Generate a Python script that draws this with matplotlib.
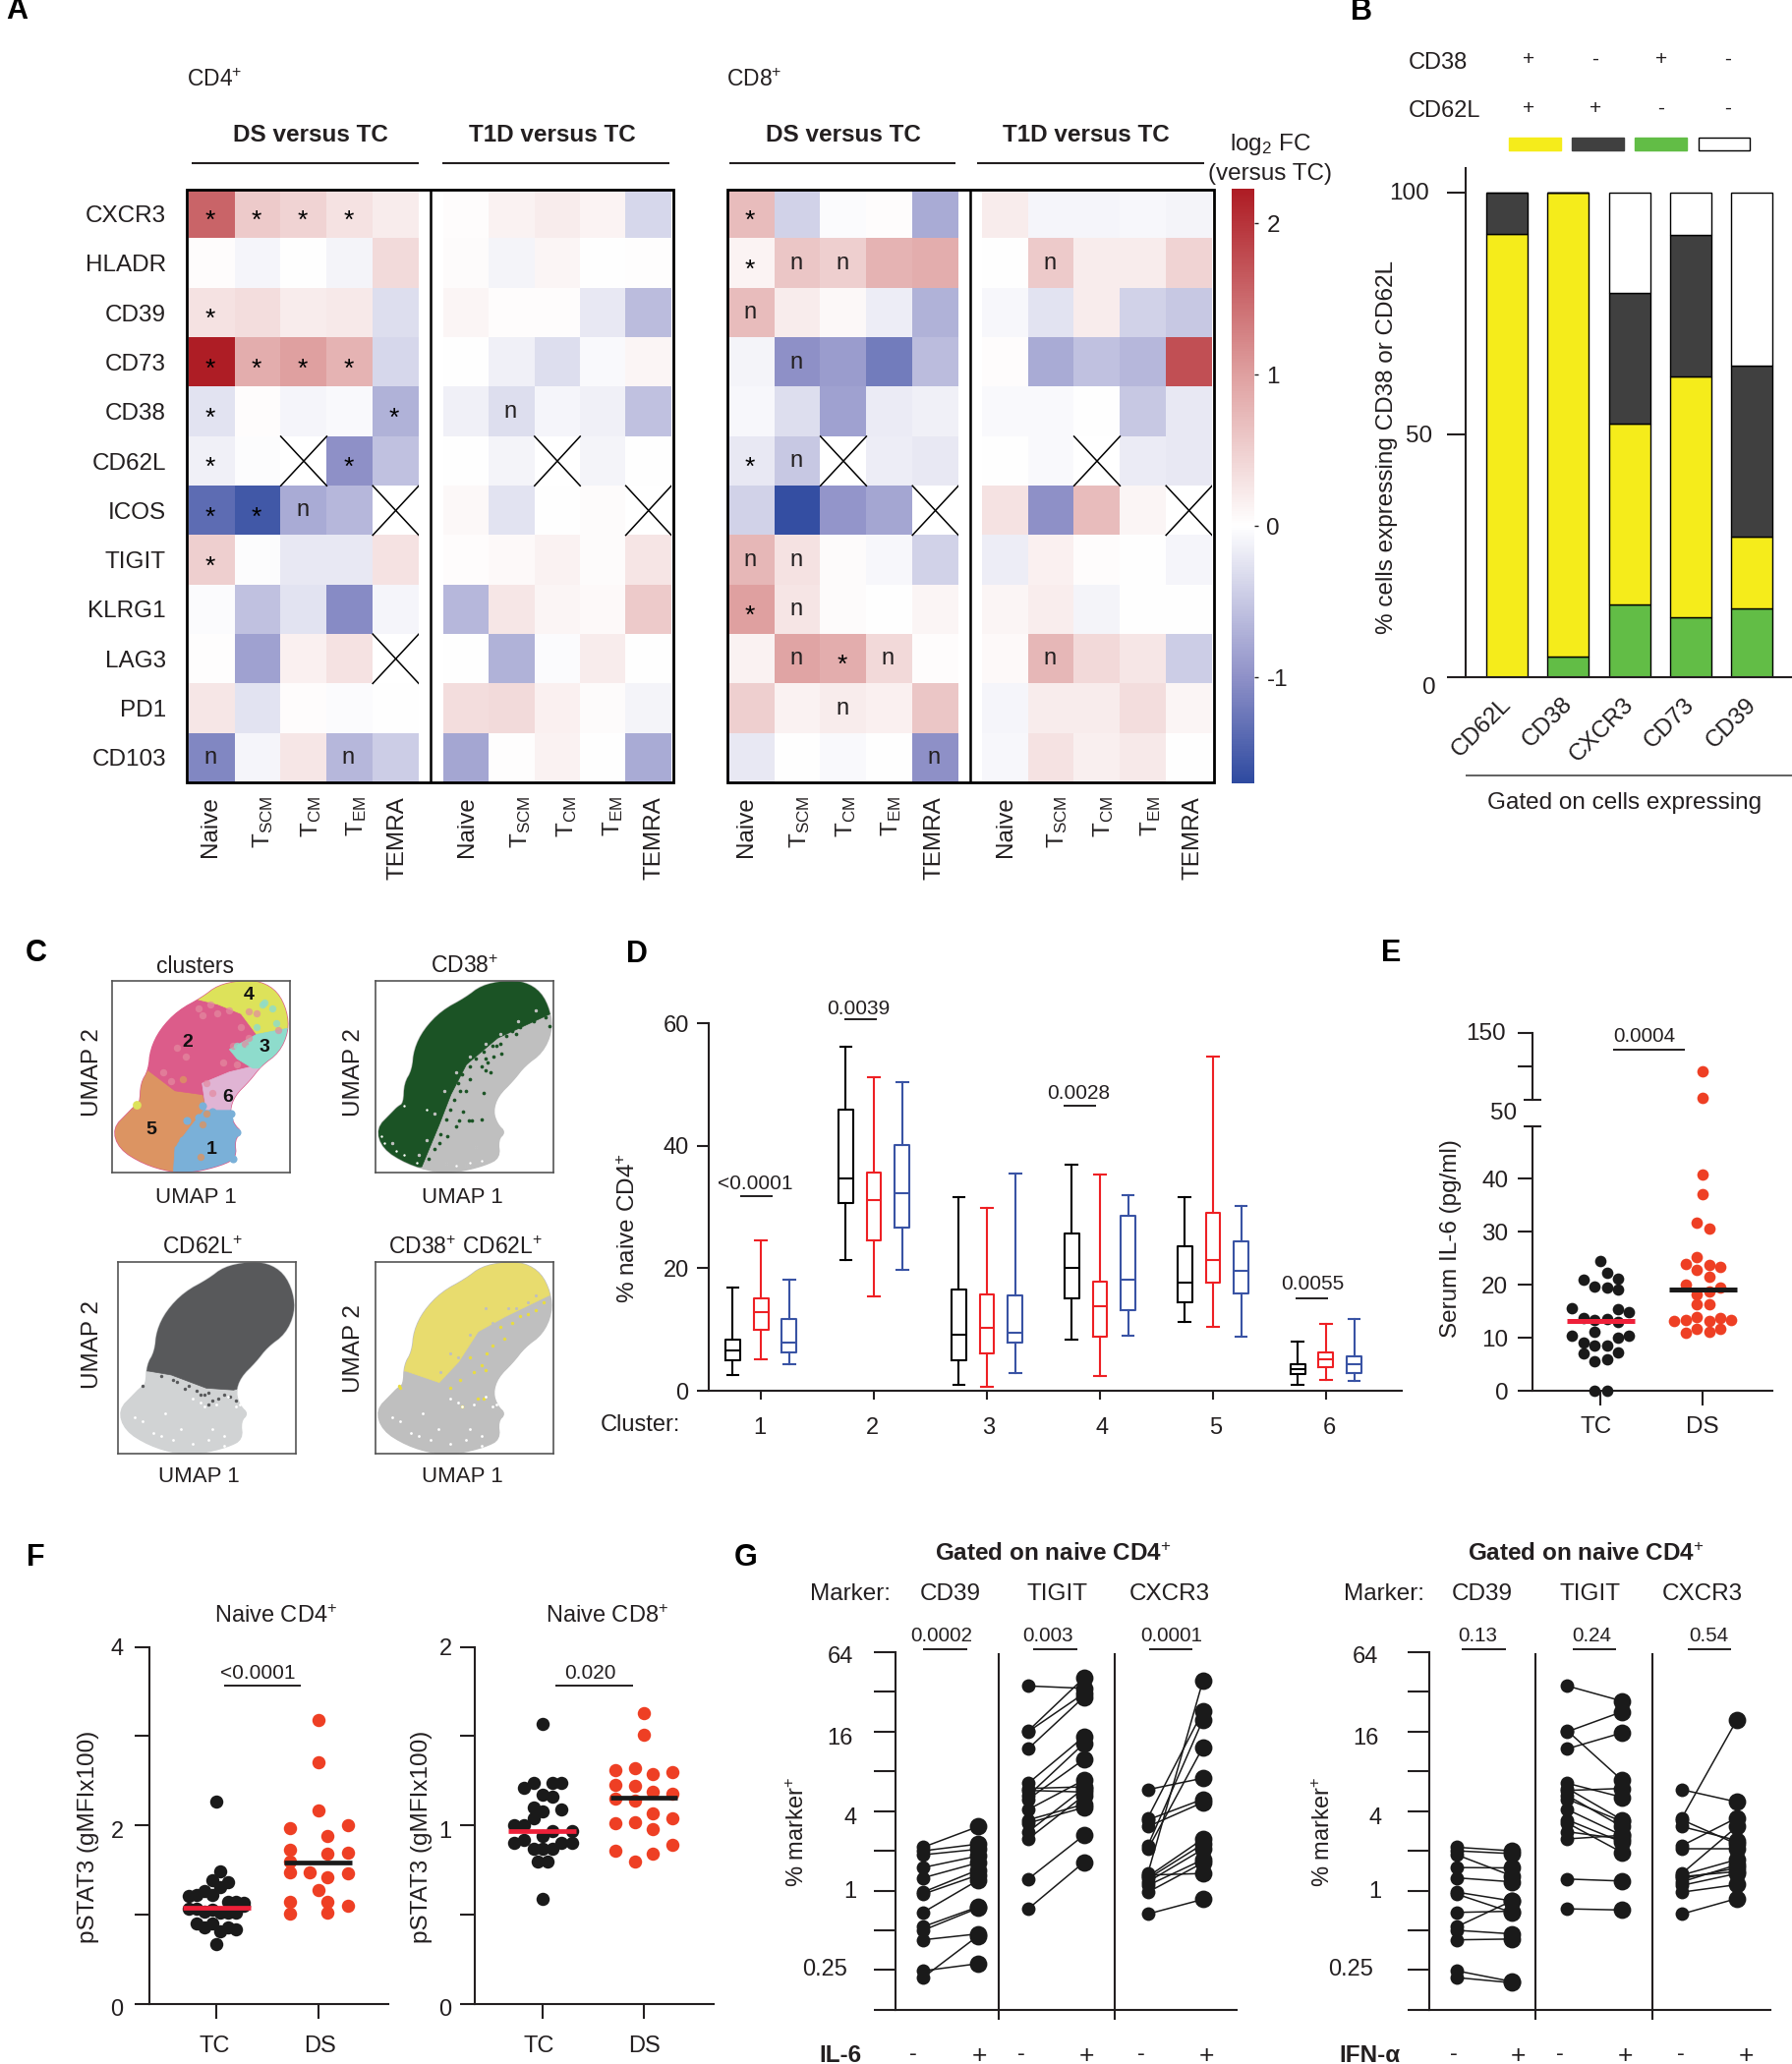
import numpy as np
import matplotlib
matplotlib.use("Agg")
import matplotlib.pyplot as plt
from matplotlib.cm import ScalarMappable
from matplotlib.colors import LinearSegmentedColormap, Normalize
from matplotlib.lines import Line2D
from matplotlib.patches import Polygon, Rectangle
from matplotlib.transforms import Affine2D, ScaledTranslation

plt.rcParams['font.family'] = ['Liberation Sans', 'DejaVu Sans']
plt.rcParams['mathtext.fontset'] = 'custom'
plt.rcParams['mathtext.rm'] = 'Liberation Sans'
plt.rcParams['mathtext.default'] = 'rm'

W, H = 1824, 2100
INK = '#231F20'
RED = '#EE3F24'
X = np.nan

# A: heat map data, log2 FC
markers = ['CXCR3', 'HLADR', 'CD39', 'CD73', 'CD38', 'CD62L', 'ICOS', 'TIGIT', 'KLRG1', 'LAG3', 'PD1', 'CD103']
subsets = ['Naive', 'T$_{SCM}$', 'T$_{CM}$', 'T$_{EM}$', 'TEMRA']
cd4_ds = [[1.55, .55, .45, .3, .2], [.02, -.08, 0, -.1, .38], [.3, .35, .2, .22, -.3], [2.2, .85, 1.0, .8, -.35],
          [-.25, .02, -.08, -.05, -.7], [-.12, -.02, X, -1.0, -.55], [-1.35, -1.55, -.75, -.65, X], [.5, -.02, -.2, -.2, .3],
          [-.03, -.55, -.25, -1.05, -.08], [.01, -.85, .15, .3, X], [.25, -.25, .02, -.03, 0], [-1.1, -.08, .25, -.65, -.45]]
cd4_t1d = [[.03, .13, .2, .12, -.35], [.05, -.1, .1, 0, .01], [.1, .03, .02, -.2, -.6], [0, -.13, -.3, -.05, .1],
           [-.12, -.3, -.08, -.12, -.55], [0, -.1, X, -.1, -.01], [.08, -.25, 0, .04, X], [.03, .06, .13, .05, .28],
           [-.65, .25, .1, .06, .55], [0, -.7, -.03, .2, 0], [.35, .38, .15, .05, -.1], [-.8, .01, .13, 0, -.75]]
cd8_ds = [[.7, -.4, -.03, .03, -.75], [.12, .6, .5, .8, .85], [.7, .2, .07, -.15, -.7], [-.1, -1.0, -.9, -1.2, -.6],
          [-.07, -.3, -.85, -.18, -.12], [-.2, -.5, X, -.15, -.2], [-.4, -1.65, -.95, -.8, X], [.75, .3, .05, -.07, -.4],
          [1.0, .28, .05, 0, .1], [.13, .95, .85, .4, .03], [.5, .13, .2, .15, .6], [-.2, 0, -.05, 0, -1.0]]
cd8_t1d = [[.2, -.08, -.08, -.06, -.1], [0, .55, .2, .2, .45], [-.06, -.25, .2, -.4, -.5], [.03, -.75, -.55, -.65, 1.75],
           [-.05, -.05, 0, -.5, -.2], [0, -.05, X, -.18, -.2], [.3, -1.0, .7, .1, X], [-.15, .15, .03, 0, -.08],
           [.1, .18, -.1, 0, 0], [.06, .75, .4, .25, -.45], [-.08, .2, .2, .35, .1], [-.07, .3, .17, .22, 0]]
# (row, column, sign)
cd4_ds_marks = [(0, 0, '*'), (0, 1, '*'), (0, 2, '*'), (0, 3, '*'), (2, 0, '*'), (3, 0, '*'), (3, 1, '*'), (3, 2, '*'), (3, 3, '*'),
                (4, 0, '*'), (4, 4, '*'), (5, 0, '*'), (5, 3, '*'), (6, 0, '*'), (6, 1, '*'), (6, 2, 'n'), (7, 0, '*'), (11, 0, 'n'), (11, 3, 'n')]
cd4_t1d_marks = [(4, 1, 'n')]
cd8_ds_marks = [(0, 0, '*'), (1, 0, '*'), (1, 1, 'n'), (1, 2, 'n'), (2, 0, 'n'), (3, 1, 'n'), (5, 0, '*'), (5, 1, 'n'), (7, 0, 'n'), (7, 1, 'n'),
                (8, 0, '*'), (8, 1, 'n'), (9, 1, 'n'), (9, 2, '*'), (9, 3, 'n'), (10, 2, 'n'), (11, 4, 'n')]
cd8_t1d_marks = [(1, 1, 'n'), (9, 1, 'n')]

# B: stacked bars
gated = ['CD62L', 'CD38', 'CXCR3', 'CD73', 'CD39']
b_green = [0, 4.3, 15.0, 12.4, 14.3]
b_yellow = [91.4, 95.7, 37.4, 49.7, 14.7]
b_black = [8.6, 0, 26.9, 29.1, 35.4]
b_white = [0, 0, 20.7, 8.8, 35.6]

# C: UMAP region outlines, coordinates
umap_outline = [(290, 570), (330, 528), (345, 512), (360, 503), (362, 450), (382, 415), (387, 360), (412, 307), (458, 257), (520, 222), (560, 190), (620, 177),
                (672, 180), (714, 207), (738, 258), (742, 312), (718, 368), (672, 403), (642, 443), (603, 483), (590, 525), (602, 560), (622, 580),
                (603, 600), (608, 648), (570, 668), (500, 686), (440, 686), (368, 664), (306, 624)]
cl_orange = [(280, 700), (445, 700), (450, 620), (490, 565), (530, 520), (520, 480), (450, 470), (380, 415), (280, 480)]
cl_blue = [(445, 700), (450, 620), (490, 565), (530, 515), (630, 515), (630, 700)]
cl_pink = [(380, 415), (380, 300), (520, 222), (640, 300), (640, 395), (590, 420), (520, 480), (450, 470)]
cl_yellow = [(500, 225), (560, 170), (760, 170), (760, 300), (660, 320), (620, 265), (560, 240)]
cl_teal = [(760, 300), (660, 320), (590, 360), (610, 385), (650, 410), (760, 410)]
cl_lilac = [(650, 405), (700, 405), (610, 520), (530, 520), (520, 450), (590, 420)]
cl_numbers = [('1', 543, 627), ('2', 483, 340), ('3', 680, 355), ('4', 640, 215), ('5', 390, 573), ('6', 587, 488)]
pink_dots = [(660, 265), (640, 260), (520, 270), (540, 240), (600, 350), (630, 345), (530, 450), (545, 475), (478, 378), (455, 355), (575, 395), (610, 400), (715, 308), (640, 330), (560, 265), (590, 255), (510, 250), (620, 300), (420, 420), (440, 445)]
teal_dots = [(675, 240), (700, 250), (640, 355), (610, 350), (680, 235), (710, 290), (660, 300)]
blue_dots = [(480, 550), (520, 510), (610, 580), (595, 530), (510, 540), (545, 525), (600, 650), (590, 545), (470, 600)]
orange_dots = [(445, 610), (515, 645), (530, 530), (500, 520), (380, 450), (470, 440), (490, 500), (520, 560)]
gate_cd38 = [(280, 450), (280, 180), (760, 180), (760, 255), (602, 330), (522, 400), (482, 480), (452, 560), (407, 672), (280, 680)]
gate_cd62l = [(280, 460), (368, 467), (425, 477), (515, 512), (585, 517), (640, 500), (760, 400), (760, 170), (280, 170)]
gate_both = [(280, 460), (367, 467), (452, 497), (502, 442), (552, 362), (622, 322), (742, 262), (760, 170), (280, 170)]
cd38_specks = [(562, 405), (577, 395), (592, 380), (612, 370), (567, 475), (512, 525), (537, 550), (562, 545), (502, 550), (472, 590), (452, 610), (600, 350),
               (640, 310), (680, 285), (710, 270), (530, 440), (505, 470), (585, 420), (570, 415), (520, 470), (735, 298), (650, 320), (495, 565), (527, 548),
               (660, 300), (625, 325), (590, 350), (565, 365), (545, 385), (530, 405), (510, 425), (500, 450), (490, 495), (480, 520), (470, 545), (455, 585), (440, 625),
               (425, 650), (725, 275), (695, 285), (610, 345), (570, 385)]
cd38_holes = [(302, 590), (312, 610), (342, 630), (362, 640), (362, 510), (420, 520), (395, 660), (530, 660), (560, 655), (495, 670), (580, 655), (520, 668),
              (610, 320), (655, 285), (700, 255), (570, 345), (530, 380), (495, 420), (465, 470), (440, 530), (420, 600), (400, 640), (330, 610), (470, 665), (545, 620)]
cd62l_specks = [(350, 507), (500, 530), (520, 525), (530, 545), (590, 545), (520, 555), (545, 540), (470, 505), (490, 520), (440, 495), (400, 480), (560, 530), (575, 535),
                (430, 490), (510, 530), (460, 515)]
cd62l_holes = [(500, 550), (510, 560), (480, 540), (570, 535), (450, 620), (380, 630), (520, 650), (560, 640), (410, 580), (350, 600), (540, 555), (600, 555), (590, 560),
               (430, 650), (480, 660), (330, 590), (400, 640), (530, 620), (560, 665)]
both_specks = [(348, 505), (350, 512), (510, 560), (550, 540), (565, 540), (570, 465), (560, 450), (590, 400), (620, 380), (575, 420), (700, 305), (540, 470), (610, 350), (660, 320),
               (530, 430), (505, 490), (480, 510), (640, 340), (680, 315), (720, 285)]
both_gray = [(570, 300), (630, 300), (680, 285), (560, 380), (480, 420), (455, 470), (700, 265), (530, 370), (590, 340), (500, 430), (650, 300)]

# D: box plots, (low, q1, median, q3, high) per cluster
d_black = [(2.5, 5.0, 6.5, 8.3, 16.9), (21.3, 30.7, 34.6, 45.9, 56.1), (.9, 4.9, 9.2, 16.6, 31.6), (8.3, 15.1, 20, 25.6, 36.9), (11.2, 14.4, 17.7, 23.6, 31.6), (1, 2.8, 3.5, 4.4, 8.1)]
d_red = [(5.1, 9.9, 12.9, 15.1, 24.6), (15.4, 24.6, 31.2, 35.6, 51.2), (.7, 6.1, 10.3, 15.7, 29.9), (2.4, 8.9, 13.8, 17.8, 35.3), (10.4, 17.7, 21.4, 29, 54.5), (1.7, 3.9, 5.1, 6.3, 10.9)]
d_blue = [(4.3, 6.3, 7.8, 11.7, 18.1), (19.7, 26.7, 32.2, 40.1, 50.3), (2.9, 7.8, 9.4, 15.6, 35.4), (9, 13.1, 18.1, 28.5, 32), (8.8, 15.9, 19.6, 24.4, 30.2), (1.6, 2.9, 4.4, 5.6, 11.7)]
clusters = ['1', '2', '3', '4', '5', '6']

# E: serum IL-6, value and swarm offset
e_tc = [24.5, 22.3, 21.0, 21.2, 19.7, 19.4, 19.1, 15.6, 15.4, 14.9, 13.8, 13.3, 13.6, 13.0, 11.1, 10.4, 10.0, 10.4, 9.1, 8.5, 8.5, 7.0, 7.3, 5.6, 5.9, 0, 0]
e_tc_off = [0, .06, -.17, .17, -.06, .06, .17, -.28, .17, .28, -.17, -.06, .06, .17, -.06, -.28, .17, .28, -.17, -.06, .06, -.17, .17, -.06, .06, -.06, .06]
e_ds = [93, 53, 40.9, 37.2, 31.8, 30.6, 25.2, 24, 23.7, 23.3, 22.8, 21.5, 20.1, 19.4, 18.7, 18.1, 16.4, 16.4, 13.9, 13.2, 13.7, 13.3, 13.2, 13.3, 11.7, 11.6, 10.9, 11.1]
e_ds_off = [0, 0, 0, 0, -.06, .06, -.06, -.17, .06, .17, -.06, .06, -.17, .17, .06, -.06, -.06, .06, -.06, .06, .17, -.17, -.28, .28, -.06, .17, -.17, .06]

# F: pSTAT3
f4_tc = [2.27, 1.49, 1.39, 1.36, 1.31, 1.27, 1.21, 1.22, 1.22, 1.15, 1.15, 1.13, 1.07, 1.07, 1.04, 1.06, 1.02, 1.02, 1.02, 1.10, .90, .86, .90, .82, .86, .84, .67]
f4_tc_off = [0, .03, -.04, .11, .03, -.12, -.28, -.2, -.04, .11, .19, .27, -.28, -.2, -.12, -.04, .03, .11, .19, .27, -.2, -.12, -.04, .03, .11, .19, 0]
f4_ds = [3.18, 2.71, 2.17, 1.97, 2.0, 1.88, 1.73, 1.70, 1.68, 1.6, 1.47, 1.47, 1.46, 1.42, 1.28, 1.15, 1.15, 1.10, 1.01, 1.02]
f4_ds_off = [0, 0, 0, -.28, .29, .09, -.28, .29, .09, -.28, -.28, -.09, .29, .09, 0, .09, -.28, .29, -.28, .09]
f8_tc = [1.57, 1.24, 1.21, 1.24, 1.24, 1.17, 1.16, 1.10, 1.09, 1.08, 1.04, 1.0, 1.0, .97, .94, .97, .90, .92, .90, .90, .87, .87, .87, .80, .80, .59]
f8_tc_off = [0, -.09, -.18, .1, .19, 0, .1, -.09, .19, 0, -.09, -.28, -.18, .1, 0, .29, -.28, -.18, .29, .19, -.09, 0, .1, -.05, .05, 0]
f8_ds = [1.63, 1.51, 1.31, 1.32, 1.29, 1.30, 1.23, 1.22, 1.19, 1.18, 1.15, 1.14, 1.07, 1.04, 1.01, 1.02, .98, .86, .89, .84, .80]
f8_ds_off = [0, 0, -.28, -.09, .09, .28, -.28, -.09, .09, .28, -.28, -.09, .09, .28, -.28, -.09, .09, -.28, .28, .09, -.09]

# G: paired donors, log2 of % marker
cd39_base = [1.09, 1.00, .90, .58, .32, -.04, -.09, -.55, -.91, -1.0, -1.24, -2.19, -2.02]
cd39_il6 = [1.61, 1.17, 1.04, .87, .70, .52, .39, .26, -.41, -.44, -1.09, -1.14, -1.84]
cd39_ifn = [1.0, .93, .37, .57, .22, -.26, -.55, -.52, -.26, -1.09, -1.22, -2.32, -2.29]
tigit_base = [5.15, 4.02, 4.0, 3.57, 2.70, 2.57, 2.52, 2.39, 2.30, 2.04, 1.78, 1.70, 1.48, 1.30, .29, -.46]
tigit_il6 = [5.09, 5.35, 4.96, 4.87, 3.87, 2.61, 2.48, 3.70, 3.30, 2.78, 2.17, 2.09, 2.57, 2.39, 1.39, .71]
tigit_ifn = [4.77, 2.78, 4.50, 3.97, 2.35, 1.78, 2.57, 1.61, 1.74, 1.39, 1.22, .96, 1.30, 1.39, .24, -.49]
cxcr3_base = [2.54, 1.78, 1.61, 1.83, .43, 1.04, 1.13, .35, .30, .22, .13, .39, -.04, -.59]
cxcr3_il6 = [2.83, 2.30, 2.22, 4.52, 5.29, 3.61, 4.30, 1.30, 1.17, 1.04, .78, .43, .70, -.22]
cxcr3_ifn = [2.23, 1.17, 1.26, 4.30, 1.61, 1.04, 1.83, .48, .57, .65, .43, .78, .15, -.2]

fig = plt.figure(figsize=(W / 100, H / 100), dpi=100)
px = Affine2D().scale(1 / W, -1 / H).translate(0, 1) + fig.transFigure


def axpx(l, t, r, b):
    return fig.add_axes([l / W, 1 - b / H, (r - l) / W, (b - t) / H])


def txt(x, y, s, size=17.5, ha='center', va='center', **kw):
    if kw.get('rotation') == 90:
        x += 2
    else:
        y += 2
    fig.text(x, y, s, transform=px, fontsize=size, ha=ha, va=va, color=kw.pop('color', INK), **kw)


def seg(x0, y0, x1, y1, lw=1.5, color=INK):
    fig.add_artist(Line2D([x0, x1], [y0, y1], transform=px, lw=lw, color=color, solid_capstyle='butt'))


def pbar(x, y, s, x0, x1, ybar, size=14.8):
    txt(x, y, s, size=size)
    seg(x0, ybar, x1, ybar, lw=1.4)


def clean(ax):
    ax.patch.set_alpha(0)
    for side in ['top', 'right']:
        ax.spines[side].set_visible(False)
    for side in ['left', 'bottom']:
        ax.spines[side].set_linewidth(1.5)
        ax.spines[side].set_color(INK)
    ax.tick_params(width=1.5, color=INK, labelcolor=INK)


def smooth(pts, rounds=2):
    # corner cutting, the blobs are round in the picture
    pts = np.array(pts, dtype=float)
    for _ in range(rounds):
        nxt = np.roll(pts, -1, axis=0)
        pts = np.column_stack([.75 * pts + .25 * nxt, .25 * pts + .75 * nxt]).reshape(-1, 2)
    return pts


for x, y, s in [(17, 9, 'A'), (1385, 10, 'B'), (37, 968, 'C'), (648, 969, 'D'), (1415, 968, 'E'), (36, 1583, 'F'), (759, 1583, 'G')]:
    txt(x, y, s, size=22, fontweight='bold', color='black')

# ---- A
nodes = [(0, '#2E4AA0'), (.178, '#8F91C8'), (.4326, '#FFFFFF'), (.687, '#DFA0A0'), (1, '#AE1C24')]
cmap = LinearSegmentedColormap.from_list('fc', nodes)
norm = Normalize(-1.7, 2.23)


def heat(l, r, vals, marks):
    ax = axpx(l, 192.5, r, 796)
    vals = np.array(vals, dtype=float)
    ax.imshow(vals, cmap=cmap, norm=norm, aspect='auto', interpolation='nearest')
    ax.axis('off')
    for i, j in zip(*np.where(np.isnan(vals))):
        ax.plot([j - .5, j + .5], [i + .5, i - .5], color='black', lw=1.1)
        ax.plot([j - .5, j + .5], [i - .5, i + .5], color='black', lw=1.1)
    for i, j, s in marks:
        if s == '*':
            ax.text(j - .03, i + .14, s, ha='center', va='center', fontsize=19, color='black')
        else:
            ax.text(j - .03, i, s, ha='center', va='center', fontsize=17, color=INK)
    ax.set_xlim(-.5, 4.5)
    ax.set_ylim(11.5, -.5)
    return ax


heat(192, 426, cd4_ds, cd4_ds_marks)
heat(451, 683, cd4_t1d, cd4_t1d_marks)
heat(741, 975, cd8_ds, cd8_ds_marks)
heat(999, 1233, cd8_t1d, cd8_t1d_marks)
for l, r, mid in [(190.5, 685, 438.5), (740, 1235, 987)]:
    fig.add_artist(Rectangle((l, 192.5), r - l, 603.5, transform=px, fill=False, ec='black', lw=2))
    seg(mid, 192.5, mid, 796, lw=1.8, color='black')
for i, m in enumerate(markers):
    txt(169, 218 + 50.3 * i, m, ha='right')
xcenters = [212, 266, 314.5, 361, 403, 473, 528, 575, 622, 663.5, 757, 811.5, 859, 905, 949, 1021, 1074, 1121, 1168.6, 1211.5]
for k, x in enumerate(xcenters):
    txt(x, 810, subsets[k % 5], rotation=90, va='top')
txt(218, 79, 'CD4$^{+}$', size=16.5)
txt(767, 79, 'CD8$^{+}$', size=16.5)
for x, s in [(316, 'DS versus TC'), (562, 'T1D versus TC'), (858, 'DS versus TC'), (1104.5, 'T1D versus TC')]:
    txt(x, 135, s, fontweight='bold')
for x0, x1 in [(194.7, 425.6), (450.4, 681), (742, 972), (994, 1225)]:
    seg(x0, 166, x1, 166)
txt(1292, 145, 'log$_{2}$ FC')
txt(1292.5, 175, '(versus TC)')
cax = axpx(1253, 192, 1276, 797)
cb = fig.colorbar(ScalarMappable(norm=norm, cmap=cmap), cax=cax, ticks=[2, 1, 0, -1])
cb.outline.set_visible(False)
cax.tick_params(length=3, width=1, labelsize=17.5, pad=6, color=INK, labelcolor=INK)
cax.set_yticklabels(['2', '1', '0', '-1'])

# ---- B
ax = axpx(1491, 171, 1824, 689)
clean(ax)
xb = np.arange(5)
edge = dict(width=42 / 62.3, edgecolor='black', linewidth=1)
b0 = np.array(b_green, dtype=float)
b1 = b0 + b_yellow
b2 = b1 + b_black
ax.bar(xb, b_green, color='#62BD46', **edge)
ax.bar(xb, b_yellow, bottom=b0, color='#F5EC1B', **edge)
ax.bar(xb, b_black, bottom=b1, color='#404040', **edge)
ax.bar(xb, b_white, bottom=b2, color='white', **edge)
ax.set_xlim((1491 - 1533) / 62.3, (1824 - 1533) / 62.3)
ax.set_ylim(0, 105.07)
ax.set_yticks([0, 50, 100])
ax.set_yticklabels([])
ax.tick_params(axis='y', length=13.5)
ax.set_xticks(xb)
ax.set_xticklabels(gated, rotation=45, ha='right', va='top', rotation_mode='anchor', fontsize=17.5)
ax.tick_params(axis='x', length=0, pad=12)
shift = ScaledTranslation(-5 / 72, 0, fig.dpi_scale_trans)
for lab in ax.get_xticklabels():
    lab.set_transform(lab.get_transform() + shift)
txt(1454, 195, '100', ha='right')
txt(1457, 442, '50', ha='right')
txt(1461, 698, '0', ha='right')
txt(1409, 455, '% cells expressing CD38 or CD62L', rotation=90)
seg(1491, 789, 1824, 789, lw=1.3, color='#555555')
txt(1653, 814.5, 'Gated on cells expressing')
txt(1433, 62, 'CD38', size=17, ha='left')
txt(1433, 111, 'CD62L', size=17, ha='left')
for x, up, down in zip([1555, 1623, 1690, 1758], ['+', '-', '+', '-'], ['+', '+', '-', '-']):
    txt(x, 58, up, size=15)
    txt(x, 108, down, size=15)
for x0, x1, c, e in [(1535.5, 1587.6, '#F5EC1B', '#F5EC1B'), (1599, 1652, '#404040', '#404040'), (1663, 1716.5, '#62BD46', '#62BD46'), (1728, 1780, 'white', 'black')]:
    fig.add_artist(Rectangle((x0, 140), x1 - x0, 12.6, transform=px, fc=c, ec=e, lw=1))


# ---- C
def umap(box, regions, base, dots=()):
    ax = axpx(*box)
    ax.set_xlim(288, 745)
    ax.set_ylim(686, 177)
    ax.set_xticks([])
    ax.set_yticks([])
    for side in ax.spines.values():
        side.set_linewidth(1.2)
        side.set_color('#555555')
    shape = Polygon(smooth(umap_outline), fc=base, ec=base, lw=1, zorder=1)
    ax.add_patch(shape)
    for pts, c in regions:
        p = Polygon(pts, fc=c, ec=c, lw=.5, zorder=2)
        ax.add_patch(p)
        p.set_clip_path(shape)
    for pts, c, size, alpha in dots:
        xs, ys = zip(*pts)
        ax.scatter(xs, ys, s=size, c=c, alpha=alpha, lw=0, zorder=3)
    return ax


ax = umap((114, 997.7, 294.6, 1192.5),
          [(cl_orange, '#DC9462'), (cl_blue, '#7AB0D8'), (cl_pink, '#DC5C8A'), (cl_lilac, '#E0B4D4'), (cl_yellow, '#DDE25A'), (cl_teal, '#8EDCCC')],
          '#DC5C8A',
          [(pink_dots, '#E48AA0', 28, .7), (teal_dots, '#8EDCCC', 28, .8), (blue_dots, '#7AB0D8', 34, 1), (orange_dots, '#DC9462', 28, .8), ([(352, 508)], '#DDE25A', 40, 1)])
for s, x, y in cl_numbers:
    ax.text(x, y, s, fontsize=14, fontweight='bold', ha='center', va='center', color='#111111', zorder=5)
umap((382, 997.7, 562.7, 1192.5), [(gate_cd38, '#1B5325')], '#BFBFBF',
     [(cd38_specks, '#1B5325', 7, 1), (cd38_holes, 'white', 3, 1), (cd38_holes[10:], '#BFBFBF', 6, 1)])
umap((120, 1284, 301, 1479), [(gate_cd62l, '#58595B')], '#D1D3D4',
     [(cd62l_specks, '#58595B', 6, 1), (cd62l_holes, 'white', 4, 1)])
umap((382, 1284, 562.7, 1479), [(gate_both, '#E8DC6E')], '#BFBFBF',
     [(both_specks, '#E8DC40', 6, 1), (both_gray, '#BFBFBF', 5, 1), (cd62l_holes, 'white', 4, 1)])
for x, y, s in [(198.5, 981.7, 'clusters'), (473, 981.7, 'CD38$^{+}$'), (205.6, 1268, 'CD62L$^{+}$'), (473, 1268, 'CD38$^{+}$ CD62L$^{+}$')]:
    txt(x, y, s, size=16.5)
for x, y in [(199, 1216), (470.5, 1216), (202.5, 1501), (470.5, 1501)]:
    txt(x, y, 'UMAP 1', size=16)
for x, y in [(92, 1091), (358, 1091), (92, 1368), (358, 1372)]:
    txt(x, y, 'UMAP 2', size=17.5, rotation=90)

# ---- D
ax = axpx(720.8, 1041, 1426, 1415)
clean(ax)
for stats, off, c in [(d_black, -.25, 'black'), (d_red, 0, '#EE2024'), (d_blue, .25, '#3953A4')]:
    rows = [dict(whislo=a, q1=b, med=m, q3=d, whishi=e, fliers=[]) for a, b, m, d, e in stats]
    st = dict(color=c, linewidth=1.5)
    ax.bxp(rows, positions=np.arange(1, 7) + off, widths=.13, showfliers=False, manage_ticks=False,
           boxprops=st, medianprops=st, whiskerprops=st, capprops=st, capwidths=.1)
ax.set_xlim(.537, 6.67)
ax.set_ylim(0, 60)
ax.set_yticks([0, 20, 40, 60])
ax.set_yticklabels(['0', '20', '40', '60'], fontsize=17)
ax.tick_params(axis='y', length=8.5, pad=6)
ax.set_xticks(range(1, 7))
ax.set_xticklabels([])
ax.tick_params(axis='x', length=6.5)
for x, s in zip([773, 887, 1006, 1121, 1237, 1352], clusters):
    txt(x, 1451, s, size=17)
txt(651, 1447.6, 'Cluster:', size=17)
txt(638, 1250, '% naive CD4$^{+}$', rotation=90)
pbar(768, 1203, '<0.0001', 753, 786, 1216.5, size=15)
pbar(873.5, 1024, '0.0039', 859, 892, 1037, size=15)
pbar(1097, 1111, '0.0028', 1082, 1115, 1125, size=15)
pbar(1335, 1305, '0.0055', 1318, 1351, 1321, size=15)

# ---- E
low = axpx(1559.3, 1145.6, 1803, 1415)
top = axpx(1559.3, 1051, 1803, 1118.7)
clean(low)
clean(top)
top.spines['bottom'].set_visible(False)
tc_y, ds_y = np.array(e_tc), np.array(e_ds)
tc_x, ds_x = np.array(e_tc_off), np.array(e_ds_off) + 1
low.scatter(tc_x, tc_y, s=71, c='#1A1A1A', lw=0, clip_on=False, zorder=3)
low.scatter(ds_x[ds_y < 50], ds_y[ds_y < 50], s=71, c=RED, lw=0, clip_on=False, zorder=3)
top.scatter(ds_x[ds_y >= 50], ds_y[ds_y >= 50], s=71, c=RED, lw=0, clip_on=False, zorder=3)
for ax_ in (low, top):
    ax_.set_xlim(-.663, 1.68)
low.set_ylim(0, 50)
top.set_ylim(50, 150)
low.hlines(13.2, -.333, .333, color='#EE2039', lw=3.6, zorder=4)
low.hlines(19.1, .667, 1.333, color='#1A1A1A', lw=3.6, zorder=4)
low.set_yticks([0, 10, 20, 30, 40])
low.set_yticklabels(['0', '10', '20', '30', '40'], fontsize=17.5)
low.tick_params(axis='y', length=11, pad=7)
low.set_xticks([0, 1])
low.set_xticklabels([])
low.tick_params(axis='x', length=11)
top.set_xticks([])
top.set_yticks([100, 150])
top.set_yticklabels([])
top.tick_params(axis='y', length=11)
seg(1550, 1145.6, 1568, 1145.6)
seg(1550, 1118.7, 1568, 1118.7)
txt(1624, 1450, 'TC')
txt(1732, 1450, 'DS')
txt(1530, 1131, '50', size=17.5)
txt(1511, 1050, '150', size=17.5)
txt(1474, 1260, 'Serum IL-6 (pg/ml)', rotation=90)
pbar(1673, 1052, '0.0004', 1640.7, 1714, 1068)


# ---- F
def swarm(l, r, tc, tc_off, ds, ds_off, ymax, yticks, med_tc, med_ds):
    ax = axpx(l, 1675.6, r, 2039)
    clean(ax)
    ax.scatter(tc_off, tc, s=94, c='#1A1A1A', lw=0, zorder=3)
    ax.scatter(np.array(ds_off) + 1, ds, s=94, c=RED, lw=0, zorder=3)
    ax.hlines(med_tc, -.333, .333, color='#EE2039', lw=3.4, zorder=4)
    ax.hlines(med_ds, .667, 1.333, color='#1A1A1A', lw=3.4, zorder=4)
    ax.set_xlim(-68.8 / 103.3, (r - (l + 68.8)) / 103.3)
    ax.set_ylim(0, ymax)
    ax.set_yticks(yticks)
    ax.set_yticklabels([])
    ax.tick_params(axis='y', length=11)
    ax.set_xticks([0, 1])
    ax.set_xticklabels([])
    ax.tick_params(axis='x', length=11)


swarm(151.7, 395, f4_tc, f4_tc_off, f4_ds, f4_ds_off, 4, [0, 1, 2, 3, 4], 1.08, 1.58)
swarm(483, 726, f8_tc, f8_tc_off, f8_ds, f8_ds_off, 2, [0, .5, 1, 1.5, 2], .967, 1.158)
for x, s in [(119, '4'), (453, '2')]:
    txt(x, 1676, s, size=17)
for x, s in [(119, '2'), (453, '1')]:
    txt(x, 1862, s, size=17)
for x in [119, 453]:
    txt(x, 2043, '0', size=17)
for x, s in [(218, 'TC'), (326, 'DS'), (548, 'TC'), (656, 'DS')]:
    txt(x, 2079.6, s, size=17)
txt(281, 1643, 'Naive CD4$^{+}$', size=17)
txt(618, 1643, 'Naive CD8$^{+}$', size=17)
txt(88, 1869, 'pSTAT3 (gMFIx100)', rotation=90)
txt(427.5, 1869, 'pSTAT3 (gMFIx100)', rotation=90)
pbar(262, 1700, '<0.0001', 228, 306, 1715, size=15)
pbar(600, 1700, '0.020', 565, 644, 1715, size=15)


# ---- G
def paired(l, r, seps, groups):
    ax = axpx(l, 1681, r, 2044.8)
    clean(ax)
    ax.set_xlim(l, r)
    ax.set_ylim(-3, 6)
    ax.set_yticks(range(-3, 7))
    ax.set_yticklabels([])
    ax.set_xticks([])
    ax.tick_params(axis='y', length=16)
    for x in seps:
        ax.plot([x, x], [-3.23, 5.95], color=INK, lw=1.5, clip_on=False)
    for x0, x1, base, stim in groups:
        for a, b in zip(base, stim):
            ax.plot([x0, x1], [a, b], color='#1A1A1A', lw=1.1, zorder=2)
        ax.scatter([x0] * len(base), base, s=100, c='#1A1A1A', lw=0, zorder=3)
        ax.scatter([x1] * len(stim), stim, s=165, c='#1A1A1A', lw=0, zorder=3)


paired(911, 1257.6, [1015.9, 1134], [(939, 995, cd39_base, cd39_il6), (1046, 1102.6, tigit_base, tigit_il6), (1167.7, 1223.8, cxcr3_base, cxcr3_il6)])
paired(1454, 1800.7, [1562, 1681], [(1482, 1538, cd39_base, cd39_ifn), (1594.5, 1650, tigit_base, tigit_ifn), (1711, 1767, cxcr3_base, cxcr3_ifn)])
ylabs = [('64', 1684), ('16', 1766.8), ('4', 1848), ('1', 1923), ('0.25', 2002)]
for (s, y), xl, xr in zip(ylabs, [854.7, 854.7, 865, 865, 839], [1389, 1389, 1399, 1399, 1374]):
    txt(xl, y, s, size=17)
    txt(xr, y, s, size=17)
txt(810, 1864, '% marker$^{+}$', size=17, rotation=90)
txt(1344.5, 1864, '% marker$^{+}$', size=17, rotation=90)
for x in [1071.6, 1613]:
    txt(x, 1580, 'Gated on naive CD4$^{+}$', fontweight='bold')
for x, s in [(865, 'Marker:'), (966.6, 'CD39'), (1076, 'TIGIT'), (1190, 'CXCR3'), (1407.6, 'Marker:'), (1508, 'CD39'), (1617.5, 'TIGIT'), (1732, 'CXCR3')]:
    txt(x, 1619.5, s, size=17.5)
for x, s, x0, x1 in [(958, '0.0002', 939, 984), (1066, '0.003', 1051, 1096), (1192, '0.0001', 1169, 1213.5),
                     (1503, '0.13', 1487, 1531.6), (1619, '0.24', 1600, 1644), (1738, '0.54', 1717, 1761.5)]:
    pbar(x, 1663, s, x0, x1, 1677.7)
txt(855, 2090, 'IL-6', fontweight='bold')
txt(1393.6, 2090, 'IFN-α', fontweight='bold')
for x in [929, 1039, 1160.5, 1478.5, 1587, 1710]:
    txt(x, 2088, '-', size=17)
for x in [996, 1105, 1227, 1544.6, 1653.6, 1776]:
    txt(x, 2090, '+', size=19)

fig.savefig('out.png', dpi=100, facecolor='white')
